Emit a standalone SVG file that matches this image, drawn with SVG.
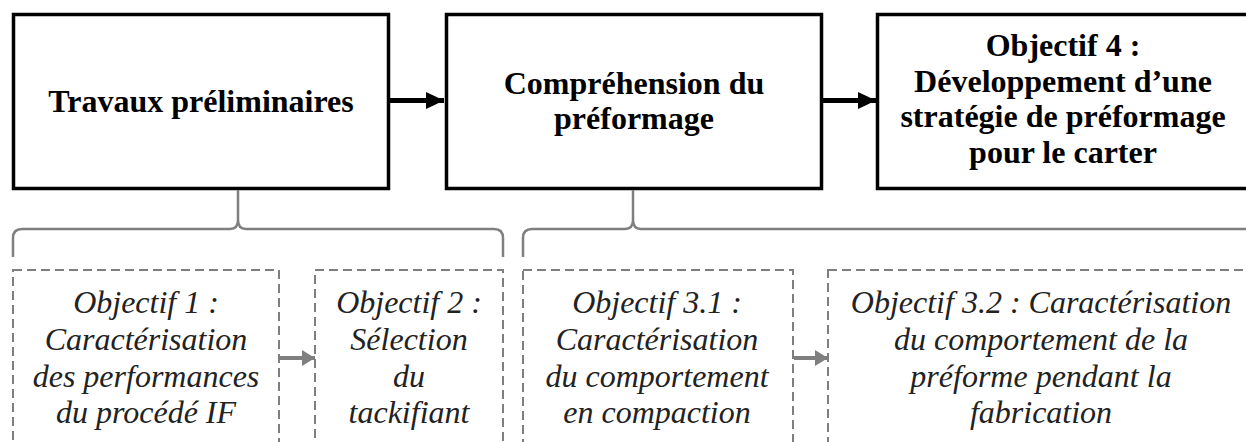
<svg xmlns="http://www.w3.org/2000/svg" width="1246" height="442" viewBox="0 0 1246 442">
<style>
.main{fill:#fff;stroke:#000;stroke-width:3.5}
.sub{fill:#fff;stroke:#7f7f7f;stroke-width:2;stroke-dasharray:9 5}
.bt{font-family:"Liberation Serif","DejaVu Serif",serif;font-weight:bold;font-size:32px;fill:#000;text-anchor:middle}
.it{font-family:"Liberation Serif","DejaVu Serif",serif;font-style:italic;font-size:32px;fill:#222;text-anchor:middle}
.brace{fill:none;stroke:#7f7f7f;stroke-width:2.5}
.arr{stroke:#000;stroke-width:5;fill:none}
.garr{stroke:#7f7f7f;stroke-width:4;fill:none}
</style>
<defs>
<marker id="ah" viewBox="0 0 18 17" refX="18" refY="8.5" markerWidth="18" markerHeight="17" markerUnits="userSpaceOnUse" orient="auto">
<path d="M0,0 L18,8.5 L0,17 Z" fill="#000"/>
</marker>
<marker id="gh" viewBox="0 0 13 16" refX="13" refY="8" markerWidth="13" markerHeight="16" markerUnits="userSpaceOnUse" orient="auto">
<path d="M0,0 L13,8 L0,16 Z" fill="#7f7f7f"/>
</marker>
</defs>
<rect width="1246" height="442" fill="#fff"/>
<g id="n1">
<rect class="main" x="13.5" y="14.5" width="375" height="174"/>
<text class="bt" x="201" y="112">Travaux préliminaires</text>
</g>
<g id="n2">
<rect class="main" x="446.5" y="14.5" width="375" height="174"/>
<text class="bt" x="634" y="93.5">Compréhension du</text>
<text class="bt" x="634" y="128.5">préformage</text>
</g>
<g id="n3">
<rect class="main" x="877.5" y="14.5" width="380" height="174"/>
<text class="bt" x="1063" y="56">Objectif 4 :</text>
<text class="bt" x="1063" y="91.5">Développement d’une</text>
<text class="bt" x="1063" y="127">stratégie de préformage</text>
<text class="bt" x="1063" y="162.5">pour le carter</text>
</g>
<g id="s1">
<rect class="sub" x="13" y="270" width="266" height="190"/>
<text class="it" x="146" y="313">Objectif 1 :</text>
<text class="it" x="146" y="350">Caractérisation</text>
<text class="it" x="146" y="387">des performances</text>
<text class="it" x="146" y="423">du procédé IF</text>
</g>
<g id="s2">
<rect class="sub" x="315" y="270" width="188" height="190"/>
<text class="it" x="409" y="313">Objectif 2 :</text>
<text class="it" x="409" y="350">Sélection</text>
<text class="it" x="409" y="387">du</text>
<text class="it" x="409" y="423">tackifiant</text>
</g>
<g id="s3">
<rect class="sub" x="523" y="270" width="270" height="190"/>
<text class="it" x="657" y="313">Objectif 3.1 :</text>
<text class="it" x="657" y="350">Caractérisation</text>
<text class="it" x="657" y="387">du comportement</text>
<text class="it" x="657" y="423">en compaction</text>
</g>
<g id="s4">
<rect class="sub" x="828" y="270" width="430" height="190"/>
<text class="it" x="1041" y="313">Objectif 3.2 : Caractérisation</text>
<text class="it" x="1041" y="350">du comportement de la</text>
<text class="it" x="1041" y="387">préforme pendant la</text>
<text class="it" x="1041" y="423">fabrication</text>
</g>
<g id="connectors">
<line class="arr" x1="390" y1="100.5" x2="444" y2="100.5" marker-end="url(#ah)"/>
<line class="arr" x1="823" y1="100.5" x2="876" y2="100.5" marker-end="url(#ah)"/>
<line class="garr" x1="280" y1="358" x2="315" y2="358" marker-end="url(#gh)"/>
<line class="garr" x1="794" y1="358" x2="828" y2="358" marker-end="url(#gh)"/>
<path class="brace" d="M13,257 L13,238 Q13,229 22,229 L230,229 Q238,229 238,220 L238,190 M238,220 Q238,229 246,229 L494,229 Q503,229 503,238 L503,257"/>
<path class="brace" d="M523,257 L523,238 Q523,229 532,229 L625,229 Q633,229 633,220 L633,190 M633,220 Q633,229 641,229 L1250,229"/>
</g>
</svg>
